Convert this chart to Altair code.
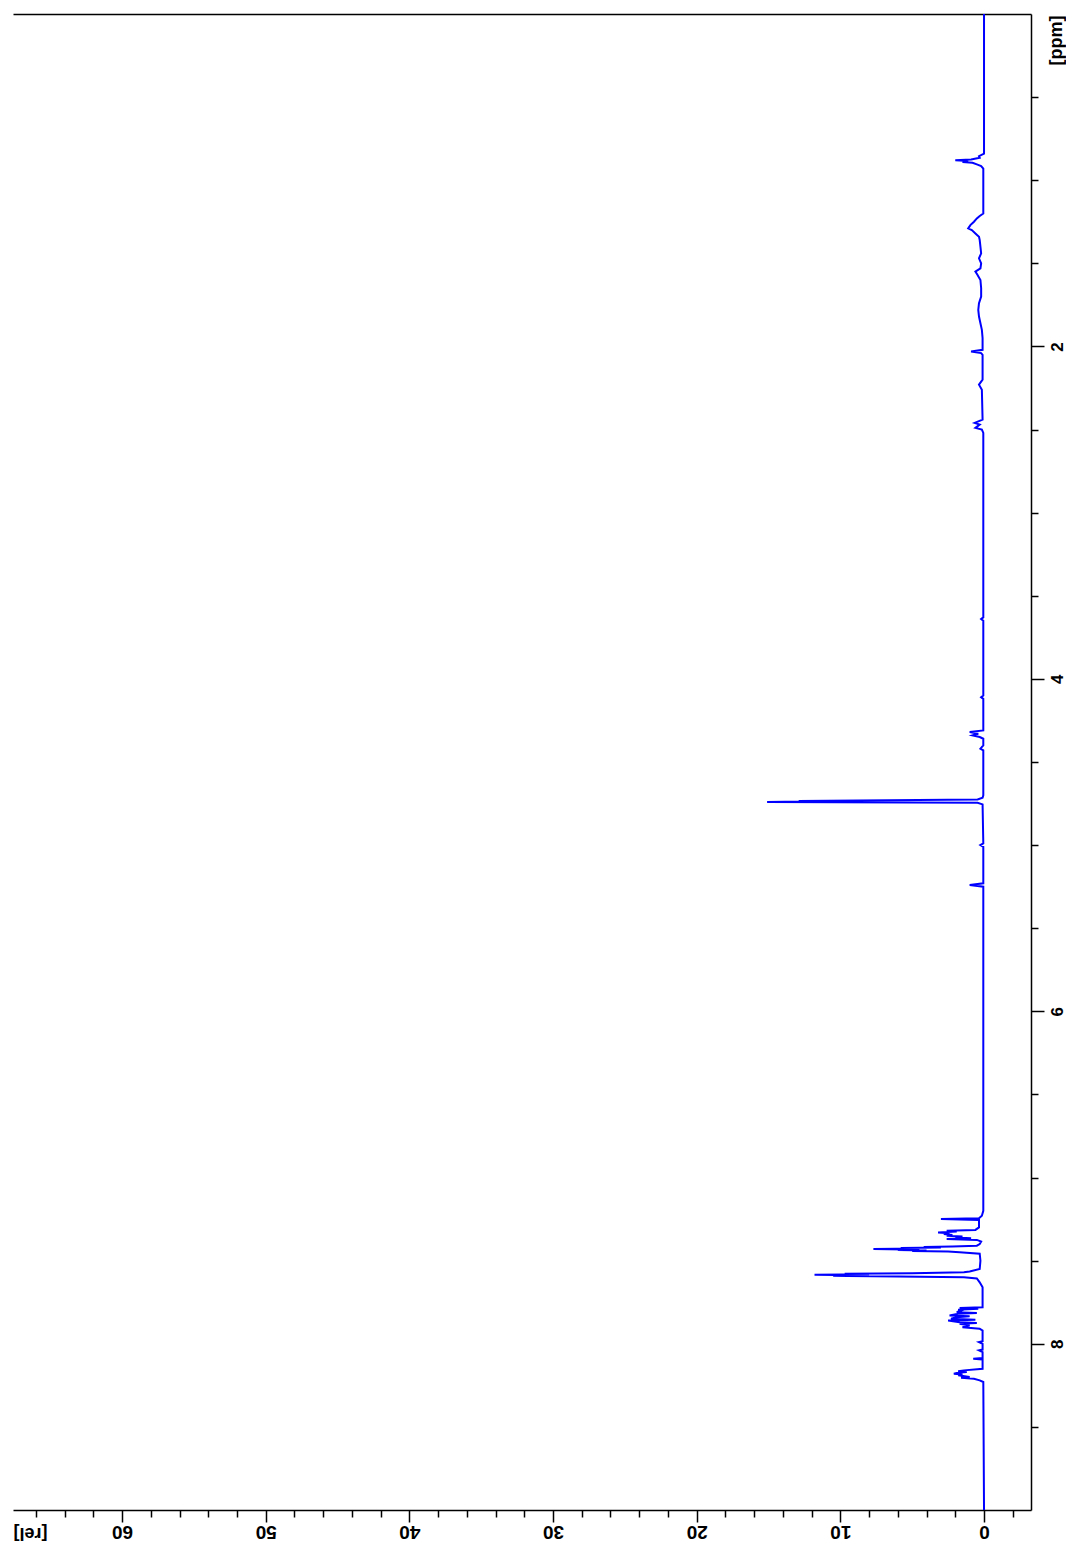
import altair as alt
import pandas as pd

# ---- spectrum: chemical shift (ppm) and relative intensity ----
ppm_aliph = [0.00, 0.84, 0.855, 0.865, 0.875, 0.88, 0.885, 0.89, 0.895, 0.905, 0.915, 0.93,
             1.20, 1.215, 1.23, 1.25, 1.27, 1.29, 1.30, 1.32, 1.34, 1.36, 1.40, 1.44, 1.47,
             1.50, 1.53, 1.55, 1.57, 1.60, 1.65, 1.70, 1.74, 1.78, 1.82, 1.86, 1.90, 1.95,
             2.02, 2.03, 2.04, 2.05, 2.20, 2.23, 2.26, 2.44, 2.46, 2.47, 2.49, 2.50, 2.52]
rel_aliph = [0.00, 0.00, 0.35, 0.30, 0.90, 2.00, 1.10, 1.50, 0.80, 0.50, 0.20, 0.05,
             0.05, 0.30, 0.50, 0.70, 0.95, 1.10, 0.85, 0.60, 0.35, 0.30, 0.25, 0.20, 0.35,
             0.20, 0.25, 0.60, 0.45, 0.25, 0.20, 0.20, 0.35, 0.40, 0.35, 0.25, 0.15, 0.10,
             0.10, 0.90, 0.20, 0.10, 0.10, 0.35, 0.15, 0.10, 0.65, 0.30, 0.60, 0.15, 0.05]

ppm_mid = [3.63, 3.64, 3.65, 4.10, 4.11, 4.12, 4.31, 4.32, 4.33, 4.34, 4.35, 4.36,
           4.40, 4.42, 4.43, 4.70, 4.715, 4.725, 4.735, 4.738, 4.741, 4.745, 4.755,
           4.99, 5.00, 5.01, 5.23, 5.24, 5.25]
rel_mid = [0.05, 0.20, 0.05, 0.05, 0.20, 0.05, 0.05, 1.00, 0.40, 0.80, 0.30, 0.05,
           0.05, 0.25, 0.05, 0.05, 0.10, 0.45, 12.9, 12.6, 15.1, 0.45, 0.10,
           0.05, 0.25, 0.05, 0.05, 1.00, 0.05]

ppm_arom = [7.20, 7.23, 7.245, 7.25, 7.255, 7.30, 7.315, 7.32, 7.325, 7.33, 7.335, 7.34,
            7.345, 7.35, 7.355, 7.36, 7.365, 7.37, 7.375, 7.385, 7.40, 7.41,
            7.415, 7.418, 7.421, 7.424, 7.427, 7.43, 7.433, 7.436, 7.439, 7.442, 7.445,
            7.45, 7.458, 7.50, 7.55, 7.565, 7.57, 7.575, 7.578, 7.581, 7.584, 7.587,
            7.59, 7.593, 7.596, 7.60, 7.607, 7.63, 7.66,
            7.78, 7.785, 7.79, 7.795, 7.80, 7.81, 7.815,
            7.82, 7.83, 7.835, 7.84, 7.85, 7.855, 7.86, 7.87, 7.875, 7.88, 7.89, 7.90,
            7.91, 7.92, 7.93, 7.985, 7.99, 8.00, 8.035, 8.04, 8.05, 8.085, 8.09, 8.095,
            8.15, 8.16, 8.165, 8.17, 8.175, 8.18, 8.185, 8.19, 8.20, 8.205, 8.21, 8.22,
            8.23, 9.00]
rel_arom = [0.05, 0.15, 0.35, 3.00, 0.35, 0.35, 0.60, 2.60, 1.90, 3.20, 2.40, 2.80,
            2.20, 2.60, 1.50, 2.00, 0.90, 2.60, 0.50, 0.20, 0.30, 0.50,
            2.20, 4.20, 3.00, 5.80, 4.50, 7.70, 5.50, 6.00, 4.00, 5.00, 2.50,
            1.70, 0.30, 0.25, 0.30, 1.00, 1.40, 5.00, 9.70, 8.00, 11.8, 9.00,
            10.5, 9.50, 6.00, 1.40, 0.50, 0.30, 0.10,
            0.10, 1.70, 0.40, 1.80, 1.60, 1.90, 0.50,
            1.80, 2.40, 1.00, 1.90, 2.30, 0.60, 2.50, 1.70, 0.50, 1.70, 1.00, 1.50,
            0.30, 0.10, 0.10, 0.10, 0.35, 0.10, 0.10, 0.35, 0.10, 0.10, 0.75, 0.10,
            0.10, 1.40, 1.80, 1.20, 1.90, 2.10, 1.50, 1.80, 1.00, 1.60, 0.70, 0.30,
            0.05, 0.00]

# ---- axes ----
rel_ticks = list(range(-2, 68, 2))
ppm_ticks = [0.5, 1.0, 1.5, 2.0, 2.5, 3.0, 3.5, 4.0, 4.5, 5.0, 5.5, 6.0, 6.5, 7.0, 7.5, 8.0, 8.5]
rel_domain = [-3.27, 67.59]
ppm_domain = [0, 9]

ppm = ppm_aliph + ppm_mid + ppm_arom
rel = rel_aliph + rel_mid + rel_arom
df = pd.DataFrame({"ppm": ppm, "rel": rel, "i": list(range(len(ppm)))})

FONT = "Liberation Sans"
NARROW = "Liberation Sans Narrow, Liberation Sans"
W, H = 1018, 1496

x_scale = alt.Scale(domain=rel_domain, reverse=True, nice=False, zero=False)
y_scale = alt.Scale(domain=ppm_domain, reverse=True, nice=False, zero=False)

x_axis = alt.Axis(
    orient="bottom", values=rel_ticks,
    labelExpr="datum.value % 10 === 0 ? '' + datum.value : ''",
    labelAngle=180, labelAlign="center", labelBaseline="middle", labelPadding=9,
    labelFont=NARROW, labelFontWeight="bold", labelFontSize=19, labelColor="black",
    labelOverlap=False, labelFlush=False,
    tickColor="black", tickWidth=1.5,
    tickSize={"condition": {"test": "datum.value % 10 === 0", "value": 12}, "value": 7},
    domainColor="black", domainWidth=1.5, grid=False,
    title="[rel]", titleAngle=180, titleX=17, titleY=22, titleAlign="center",
    titleBaseline="middle", titleFont=FONT, titleFontWeight="bold", titleFontSize=18,
    titleColor="black",
)

y_axis = alt.Axis(
    orient="right", values=ppm_ticks,
    labelExpr="datum.value % 2 === 0 ? '' + datum.value : ''",
    labelAngle=270, labelAlign="center", labelBaseline="middle", labelPadding=13,
    labelFont=FONT, labelFontWeight="bold", labelFontSize=17, labelColor="black",
    labelOverlap=False, labelFlush=False,
    tickColor="black", tickWidth=1.5,
    tickSize={"condition": {"test": "datum.value % 2 === 0", "value": 13}, "value": 7},
    domainColor="black", domainWidth=1.5, grid=False,
    title="[ppm]", titleAngle=270, titleX=25, titleY=26, titleAlign="center",
    titleBaseline="middle", titleFont=FONT, titleFontWeight="bold", titleFontSize=18,
    titleColor="black",
)

line = alt.Chart(df).mark_line(color="#0000ff", strokeWidth=2).encode(
    x=alt.X("rel:Q", scale=x_scale, axis=x_axis),
    y=alt.Y("ppm:Q", scale=y_scale, axis=y_axis),
    order=alt.Order("i:Q"),
)

top_frame = alt.Chart(df).mark_line(opacity=0).encode(
    x=alt.X("rel:Q", scale=x_scale,
            axis=alt.Axis(orient="top", labels=False, ticks=False, title=None,
                          domainColor="black", domainWidth=1.5, grid=False)),
    y=alt.Y("ppm:Q", scale=y_scale),
    order=alt.Order("i:Q"),
)

chart = alt.layer(top_frame, line).resolve_axis(x="independent").properties(
    width=W, height=H,
    autosize=alt.AutoSizeParams(type="none"),
    padding={"left": 5, "top": 6, "right": 35, "bottom": 33},
).configure_view(stroke=None)

chart.save("out.html", embed_options={"renderer": "svg", "actions": False})
